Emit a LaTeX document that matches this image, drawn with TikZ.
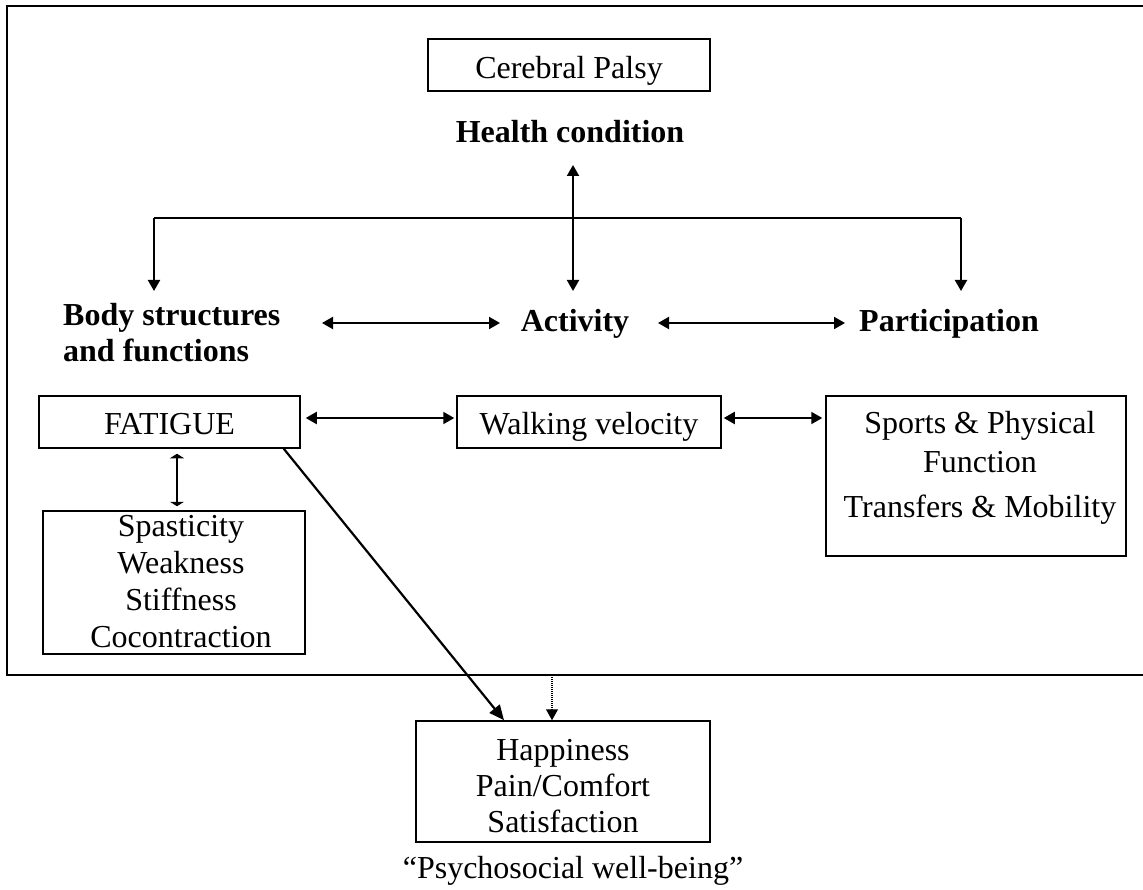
\documentclass[tikz,border=0pt]{standalone}
\usepackage{fontspec}
\setmainfont{Liberation Serif}
\usetikzlibrary{arrows.meta}
\begin{document}
\begin{tikzpicture}[x=1pt,y=-1pt,
  every node/.style={font=\fontsize{32}{36.8}\selectfont, inner sep=0pt},
  box/.style={draw, line width=1.5pt, rectangle},
  head/.style={font=\fontsize{32}{36.8}\selectfont\bfseries},
  link/.style={line width=2pt, {Triangle[length=11pt,width=12pt]}-{Triangle[length=11pt,width=12pt]}},
  shortlink/.style={line width=1.8pt, {Triangle[length=4.5pt,width=14pt]}-{Triangle[length=4.5pt,width=14pt]}},
  down/.style={line width=2pt, -{Triangle[length=11pt,width=12pt]}},
]
\useasboundingbox (0,0) rectangle (1143,890);

% frame around the ICF model (open on the right)
\draw[line width=2.4pt] (1143,6) -- (7,6);
\draw[line width=2pt] (7,5) -- (7,675.5);
\draw[line width=1.6pt] (7,675) -- (1143,675);

% health condition
\node[box, minimum width=282, minimum height=52, text height=28, text depth=0] (cp) at (569,65) {Cerebral Palsy};
\node[head, anchor=base] (hc) at (570,143) {Health condition};

% ICF components (base of a multi-line node = baseline of its last line)
\node[head, align=left, anchor=base west] (body) at (63,362) {Body structures\\and functions};
\node[head, anchor=base] (act) at (575,332) {Activity};
\node[head, anchor=base] (part) at (949,332) {Participation};

% branching from the health condition
\coordinate (hctip) at (573,165);
\coordinate (hub) at (573,218);
\coordinate (bl) at (154,218);
\coordinate (br) at (961,218);
\coordinate (bodytip) at (154,291);
\coordinate (acttip) at (573,291);
\coordinate (parttip) at (961,291);
\draw[line width=1.7pt] (bl) -- (br);
\draw[down] (bl) -- (bodytip);
\draw[down] (br) -- (parttip);
\draw[link] (hctip) -- (acttip);

% links between components
\coordinate (a1) at (322,323);
\coordinate (a2) at (500,323);
\coordinate (a3) at (658,323);
\coordinate (a4) at (845,323);
\draw[link] (a1) -- (a2);
\draw[link] (a3) -- (a4);

% measured outcomes
\node[box, minimum width=261, minimum height=52, text height=24, text depth=0] (fat) at (169.5,422) {FATIGUE};
\node[box, minimum width=264, minimum height=52, text height=24, text depth=0] (walk) at (589,422) {Walking velocity};
\node[box, minimum width=300, minimum height=160] (sport) at (976,476) {};
\node[align=center, anchor=base] (sporttxt) at (980,517) {Sports \& Physical\\[2pt]Function\\[8.2pt]Transfers \& Mobility};
\node[box, minimum width=262, minimum height=143] (spas) at (174,582.5) {};
\node[align=center, anchor=base] (spastxt) at (181,647) {Spasticity\\Weakness\\Stiffness\\Cocontraction};
\node[box, minimum width=294, minimum height=121] (happy) at (563,781.5) {};
\node[align=center, anchor=base, font=\fontsize{32}{36}\selectfont] (happytxt) at (563,832) {Happiness\\Pain/Comfort\\Satisfaction};
\node[anchor=base] (cap) at (573,878) {“Psychosocial well-being”};

\draw[link, shorten <=5pt, shorten >=2pt] ([yshift=4pt]fat.east) -- ([yshift=4pt]walk.west);
\draw[link, shorten <=2pt, shorten >=3pt] ([yshift=4pt]walk.east) -- ([yshift=4pt]walk.east -| sport.west);
\draw[shortlink, shorten <=5pt, shorten >=4pt] ([xshift=7.5pt]fat.south) -- ([xshift=3pt]spas.north);
\draw[line width=2.2pt, -{Triangle[length=15pt,width=13pt]}] ([xshift=-17pt]fat.south east) -- ([xshift=-59pt]happy.north);
\coordinate (dotstart) at (552,677);
\draw[line width=1.2pt, dash pattern=on 1.2pt off 0.8pt, -{Triangle[length=11pt,width=12pt,sep=0pt]}] (dotstart) -- ([xshift=-11pt]happy.north);
\end{tikzpicture}
\end{document}
